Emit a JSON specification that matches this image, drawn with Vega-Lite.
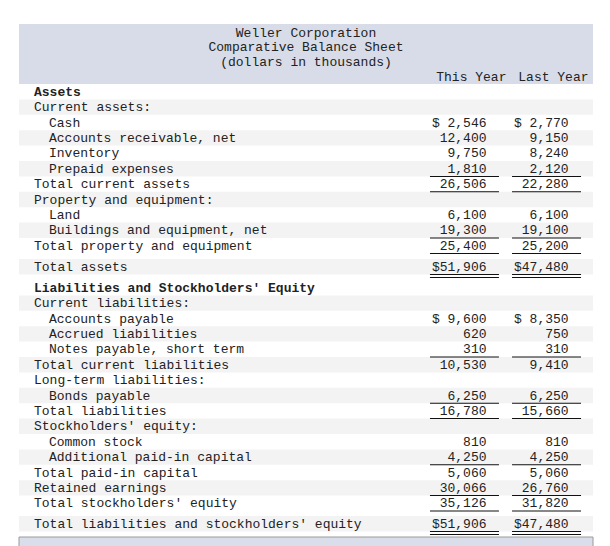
{
  "$schema": "https://vega.github.io/schema/vega-lite/v6.json",
  "padding": {"left": 18, "top": 24, "right": 0, "bottom": 0},
  "autosize": {"type": "pad"},
  "background": "white",
  "spacing": 0,
  "bounds": "flush",
  "config": {
    "view": {"stroke": null},
    "text": {"font": "Liberation Mono", "fontSize": 13, "color": "#222"}
  },
  "vconcat": [
    {
      "width": 574,
      "height": 60,
      "view": {"fill": "#d8dce8", "stroke": null},
      "layer": [
        {
          "data": {"values": [
            {"line": "Weller Corporation"},
            {"line": "Comparative Balance Sheet"},
            {"line": "(dollars in thousands)"}
          ]},
          "mark": {"type": "text", "align": "center"},
          "encoding": {
            "x": {"datum": 0.5, "type": "quantitative", "scale": {"domain": [0, 1]}, "axis": null},
            "y": {"field": "line", "type": "nominal", "sort": null,
                  "scale": {"type": "band", "domain": ["Weller Corporation", "Comparative Balance Sheet", "(dollars in thousands)", "column headings"], "paddingInner": 0, "paddingOuter": 0.05, "align": 1},
                  "axis": null},
            "text": {"field": "line"}
          }
        },
        {
          "data": {"values": [
            {"col": "this_year", "heading": "This Year"},
            {"col": "last_year", "heading": "Last Year"}
          ]},
          "mark": {"type": "text", "align": "center"},
          "encoding": {
            "x": {"field": "col", "type": "nominal", "bandPosition": 0.6,
                  "scale": {"type": "band", "domain": ["this_year", "last_year"], "range": [411, 562], "paddingInner": 0.16, "paddingOuter": 0},
                  "axis": null},
            "y": {"datum": "column headings", "type": "nominal", "axis": null},
            "text": {"field": "heading"}
          }
        }
      ],
      "resolve": {"scale": {"x": "independent"}}
    },
    {
      "data": {"values": [
        {"section": 1, "label": "Assets", "level": 0, "heading": true},
        {"section": 1, "label": "Current assets:", "level": 0},
        {"section": 1, "label": "Cash", "level": 1, "this_year": 2546, "last_year": 2770, "dollar": true},
        {"section": 1, "label": "Accounts receivable, net", "level": 1, "this_year": 12400, "last_year": 9150},
        {"section": 1, "label": "Inventory", "level": 1, "this_year": 9750, "last_year": 8240},
        {"section": 1, "label": "Prepaid expenses", "level": 1, "this_year": 1810, "last_year": 2120, "underline": "single"},
        {"section": 1, "label": "Total current assets", "level": 0, "this_year": 26506, "last_year": 22280, "underline": "single"},
        {"section": 1, "label": "Property and equipment:", "level": 0},
        {"section": 1, "label": "Land", "level": 1, "this_year": 6100, "last_year": 6100},
        {"section": 1, "label": "Buildings and equipment, net", "level": 1, "this_year": 19300, "last_year": 19100, "underline": "single"},
        {"section": 1, "label": "Total property and equipment", "level": 0, "this_year": 25400, "last_year": 25200, "underline": "single"},
        {"section": 2, "label": "Total assets", "level": 0, "this_year": 51906, "last_year": 47480, "dollar": true, "underline": "double"},
        {"section": 3, "label": "Liabilities and Stockholders' Equity", "level": 0, "heading": true},
        {"section": 3, "label": "Current liabilities:", "level": 0},
        {"section": 3, "label": "Accounts payable", "level": 1, "this_year": 9600, "last_year": 8350, "dollar": true},
        {"section": 3, "label": "Accrued liabilities", "level": 1, "this_year": 620, "last_year": 750},
        {"section": 3, "label": "Notes payable, short term", "level": 1, "this_year": 310, "last_year": 310, "underline": "single"},
        {"section": 3, "label": "Total current liabilities", "level": 0, "this_year": 10530, "last_year": 9410},
        {"section": 3, "label": "Long-term liabilities:", "level": 0},
        {"section": 3, "label": "Bonds payable", "level": 1, "this_year": 6250, "last_year": 6250, "underline": "single"},
        {"section": 3, "label": "Total liabilities", "level": 0, "this_year": 16780, "last_year": 15660, "underline": "single"},
        {"section": 3, "label": "Stockholders' equity:", "level": 0},
        {"section": 3, "label": "Common stock", "level": 1, "this_year": 810, "last_year": 810},
        {"section": 3, "label": "Additional paid-in capital", "level": 1, "this_year": 4250, "last_year": 4250, "underline": "single"},
        {"section": 3, "label": "Total paid-in capital", "level": 0, "this_year": 5060, "last_year": 5060},
        {"section": 3, "label": "Retained earnings", "level": 0, "this_year": 30066, "last_year": 26760, "underline": "single"},
        {"section": 3, "label": "Total stockholders' equity", "level": 0, "this_year": 35126, "last_year": 31820, "underline": "single"},
        {"section": 4, "label": "Total liabilities and stockholders' equity", "level": 0, "this_year": 51906, "last_year": 47480, "dollar": true, "underline": "double"},
        {"section": 5, "label": "", "footer": true}
      ]},
      "transform": [{"window": [{"op": "row_number", "as": "rn"}]}],
      "facet": {"row": {"field": "section", "type": "ordinal", "header": null}},
      "spacing": 5,
      "bounds": "flush",
      "resolve": {"scale": {"y": "independent"}},
      "spec": {
        "width": 574,
        "height": {"step": 15.4},
        "layer": [
          {
            "transform": [{"filter": "datum.rn % 2 == 0 && !datum.footer"}],
            "mark": {"type": "rect", "color": "#f3f3f3", "fill": "#f3f3f3", "opacity": 1},
            "encoding": {
              "x": {"value": 0},
              "x2": {"value": "width"},
              "y": {"field": "label", "type": "nominal", "sort": {"field": "rn", "op": "min"}, "scale": {"type": "band", "paddingInner": 0, "paddingOuter": 0}, "axis": null}
            }
          },
          {
            "transform": [{"filter": "datum.footer"}],
            "mark": {"type": "rect", "fill": "#dadeea", "stroke": "#9a9a9a", "strokeWidth": 1, "opacity": 1},
            "encoding": {
              "x": {"value": 0},
              "x2": {"value": "width"},
              "y": {"field": "label", "type": "nominal", "sort": {"field": "rn", "op": "min"}, "scale": {"type": "band", "paddingInner": 0, "paddingOuter": 0}, "axis": null}
            }
          },
          {
            "transform": [{"filter": "!datum.footer && !datum.heading"}],
            "mark": {"type": "text", "align": "left"},
            "encoding": {
              "x": {"field": "level", "type": "ordinal", "scale": {"type": "point", "domain": [0, 1], "range": [15, 30], "padding": 0}, "axis": null},
              "y": {"field": "label", "type": "nominal", "sort": {"field": "rn", "op": "min"}, "scale": {"type": "band", "paddingInner": 0, "paddingOuter": 0}, "axis": null},
              "text": {"field": "label"}
            }
          },
          {
            "transform": [{"filter": "datum.heading"}],
            "mark": {"type": "text", "align": "left", "fontWeight": "bold"},
            "encoding": {
              "x": {"field": "level", "type": "ordinal", "scale": {"type": "point", "domain": [0, 1], "range": [15, 30], "padding": 0}, "axis": null},
              "y": {"field": "label", "type": "nominal", "sort": {"field": "rn", "op": "min"}, "scale": {"type": "band", "paddingInner": 0, "paddingOuter": 0}, "axis": null},
              "text": {"field": "label"}
            }
          },
          {
            "transform": [
              {"filter": "!datum.footer"},
              {"fold": ["this_year", "last_year"], "as": ["col", "value"]},
              {"filter": "isValid(datum.value)"},
              {"calculate": "datum.dollar ? ('$' + (datum.value < 10000 ? ' ' : '') + format(datum.value, ',')) : format(datum.value, ',')", "as": "shown"}
            ],
            "mark": {"type": "text", "align": "right"},
            "encoding": {
              "x": {"field": "col", "type": "nominal", "bandPosition": 0.82,
                    "scale": {"type": "band", "domain": ["this_year", "last_year"], "range": [411, 562], "paddingInner": 0.16, "paddingOuter": 0},
                    "axis": null},
              "y": {"field": "label", "type": "nominal", "sort": {"field": "rn", "op": "min"}, "scale": {"type": "band", "paddingInner": 0, "paddingOuter": 0}, "axis": null},
              "text": {"field": "shown"}
            }
          },
          {
            "transform": [
              {"filter": "isValid(datum.underline)"},
              {"fold": ["this_year", "last_year"], "as": ["col", "value"]}
            ],
            "mark": {"type": "tick", "orient": "horizontal", "size": 69, "thickness": 1, "color": "#111", "opacity": 1},
            "encoding": {
              "x": {"field": "col", "type": "nominal",
                    "scale": {"type": "band", "domain": ["this_year", "last_year"], "range": [411, 562], "paddingInner": 0.16, "paddingOuter": 0},
                    "axis": null},
              "y": {"field": "label", "type": "nominal", "bandPosition": 1, "sort": {"field": "rn", "op": "min"}, "scale": {"type": "band", "paddingInner": 0, "paddingOuter": 0}, "axis": null}
            }
          },
          {
            "transform": [
              {"filter": "datum.underline == 'double'"},
              {"fold": ["this_year", "last_year"], "as": ["col", "value"]}
            ],
            "mark": {"type": "tick", "orient": "horizontal", "size": 69, "thickness": 1, "color": "#111", "opacity": 1},
            "encoding": {
              "x": {"field": "col", "type": "nominal",
                    "scale": {"type": "band", "domain": ["this_year", "last_year"], "range": [411, 562], "paddingInner": 0.16, "paddingOuter": 0},
                    "axis": null},
              "y": {"field": "label", "type": "nominal", "bandPosition": 1.2, "sort": {"field": "rn", "op": "min"}, "scale": {"type": "band", "paddingInner": 0, "paddingOuter": 0}, "axis": null}
            }
          }
        ],
        "resolve": {"scale": {"x": "independent"}}
      }
    }
  ]
}
